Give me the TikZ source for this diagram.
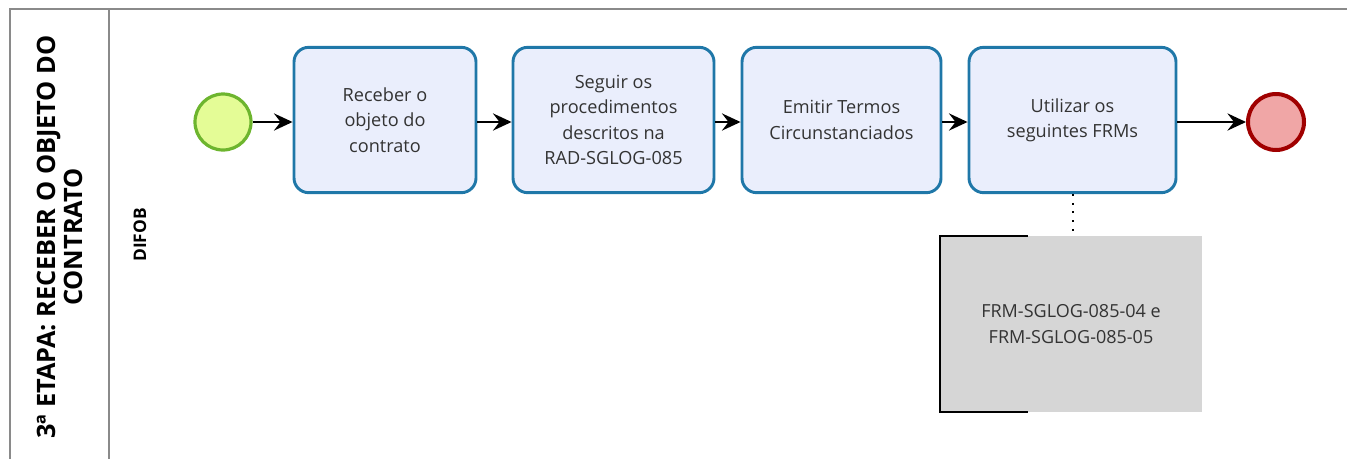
\documentclass[tikz,border=0pt]{standalone}
\usepackage{fontspec}
\setmainfont{Open Sans}
\usetikzlibrary{arrows.meta}
\definecolor{frame}{HTML}{8A8A8A}
\definecolor{taskfill}{HTML}{EAEEFC}
\definecolor{taskline}{HTML}{1F77A8}
\definecolor{startfill}{HTML}{E4FC96}
\definecolor{startline}{HTML}{6DB52E}
\definecolor{endfill}{HTML}{F0A6A6}
\definecolor{endline}{HTML}{A00000}
\definecolor{annfill}{HTML}{D6D6D6}
\definecolor{txt}{HTML}{333333}
\tikzset{
  x=0.75pt, y=-0.75pt,
  task/.style={draw=taskline, fill=taskfill, line width=2.2pt, rounded corners=11pt,
    minimum width=137pt, minimum height=109pt, align=center, text=txt,
    font=\fontsize{13.6}{19}\selectfont, inner sep=0pt},
  startev/.style={circle, draw=startline, fill=startfill, line width=2.4pt, minimum size=42pt, inner sep=0pt},
  endev/.style={circle, draw=endline, fill=endfill, line width=3pt, minimum size=42pt, inner sep=0pt},
  flow/.style={-{Stealth[length=14pt,width=13pt,inset=5pt]}, line width=1.1pt, black},
  frameline/.style={draw=frame, line width=1.6pt},
}
\begin{document}
\begin{tikzpicture}
\useasboundingbox (0,0) rectangle (1347,458);
% pool frame
\draw[frameline] (10,470) -- (10,9) -- (1350,9);
\draw[frameline] (109,9) -- (109,470);
\node[rotate=90, align=center, font=\fontsize{19}{20}\bfseries\selectfont, text=black] (title) at (60,237) {3ª ETAPA: RECEBER O OBJETO DO\\CONTRATO};
\node[rotate=90, font=\fontsize{13}{14}\bfseries\selectfont, text=black] (lane) at (140,235) {DIFOB};
% events
\node[startev] (s) at (223,122) {};
\node[endev] (e) at (1276,122) {};
% tasks
\node[task, minimum width=136.5pt] (t1) at (385,120) {Receber o\\objeto do\\contrato};
\node[task, minimum width=150.75pt] (t2) at (613.5,120) {Seguir os\\procedimentos\\descritos na\\RAD-SGLOG-085};
\node[task, minimum width=149.25pt] (t3) at (841.5,120) {Emitir Termos\\Circunstanciados};
\node[task, minimum width=155.25pt] (t4) at (1072.5,120) {Utilizar os\\seguintes FRMs};
% flows
\draw[flow] (s.east) -- (s.east -| t1.west);
\draw[flow] (t1.east |- s.east) -- (t2.west |- s.east);
\draw[flow] (t2.east |- s.east) -- (t3.west |- s.east);
\draw[flow] (t3.east |- s.east) -- (t4.west |- s.east);
\draw[flow] (t4.east |- e.west) -- (e.west);
% annotation
\node[fill=annfill, minimum width=196.5pt, minimum height=132pt, inner sep=0pt, align=center, text=txt, font=\fontsize{13.5}{19}\selectfont] (ann) at (1071,324) {FRM-SGLOG-085-04 e\\FRM-SGLOG-085-05};
\draw[line width=1.4pt, black] ([xshift=66pt]ann.north west) -- (ann.north west) -- (ann.south west) -- ([xshift=66pt]ann.south west);
\draw[line width=1.5pt, dash pattern=on 1.5pt off 5pt] (t4.south) -- (t4.south |- ann.north);
\end{tikzpicture}
\end{document}
